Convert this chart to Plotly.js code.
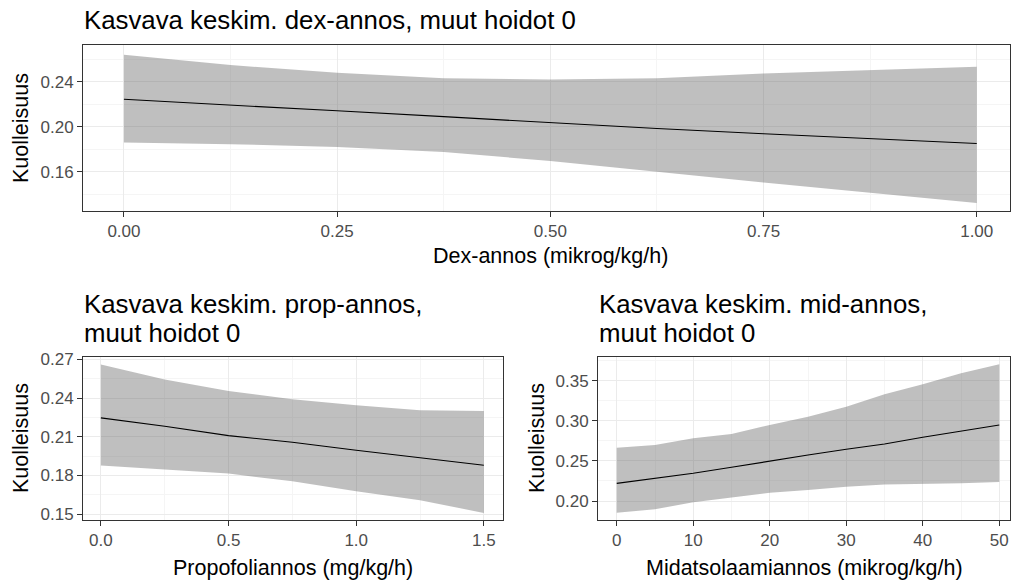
<!DOCTYPE html>
<html>
<head>
<meta charset="utf-8">
<script src="https://cdn.plot.ly/plotly-3.0.1.min.js"></script>
<style>html,body{margin:0;padding:0;background:#fff;}</style>
</head>
<body>
<div id="chart" style="width:1011px;height:583px;"></div>
<script>
// ---- data ----
const dexX     = [0, 0.125, 0.25, 0.375, 0.5, 0.625, 0.75, 0.875, 1.0];
const dexFit   = [0.2244, 0.2190, 0.2142, 0.2090, 0.2035, 0.1985, 0.1939, 0.1895, 0.1852];
const dexLower = [0.1860, 0.1846, 0.1820, 0.1777, 0.1697, 0.1600, 0.1505, 0.1416, 0.1324];
const dexUpper = [0.2640, 0.2548, 0.2480, 0.2430, 0.2420, 0.2430, 0.2474, 0.2504, 0.2533];

const propX     = [0, 0.25, 0.5, 0.75, 1.0, 1.25, 1.5];
const propFit   = [0.2246, 0.2181, 0.2109, 0.2057, 0.1995, 0.1939, 0.1879];
const propLower = [0.1877, 0.1846, 0.1815, 0.1755, 0.1678, 0.1608, 0.1510];
const propUpper = [0.2659, 0.2543, 0.2455, 0.2390, 0.2344, 0.2305, 0.2300];

const midX     = [0, 5, 10, 15, 20, 25, 30, 35, 40, 45, 50];
const midFit   = [0.2220, 0.2278, 0.2345, 0.2420, 0.2499, 0.2574, 0.2645, 0.2710, 0.2794, 0.2873, 0.2948];
const midLower = [0.1854, 0.1896, 0.1984, 0.2046, 0.2104, 0.2137, 0.2178, 0.2205, 0.2212, 0.2220, 0.2237];
const midUpper = [0.2665, 0.2698, 0.2782, 0.2835, 0.2948, 0.3051, 0.3176, 0.3330, 0.3455, 0.3592, 0.3704];

const titles = ["Kasvava keskim. dex-annos, muut hoidot 0",
                "Kasvava keskim. prop-annos,", "muut hoidot 0",
                "Kasvava keskim. mid-annos,", "muut hoidot 0"];
const yTitle = "Kuolleisuus";
const xTitles = ["Dex-annos (mikrog/kg/h)", "Propofoliannos (mg/kg/h)", "Midatsolaamiannos (mikrog/kg/h)"];

// ---- helpers ----
const W = 1011, H = 583;
const px = v => v / W;
const py = v => 1 - v / H;
const FONT = "Liberation Sans, Arial, sans-serif";
const RIBBON = "rgba(95,95,95,0.4)";

function band(x, lo, hi, xa, ya) {
  return [
    {x: x, y: lo, xaxis: xa, yaxis: ya, type: "scatter", mode: "lines",
     line: {width: 0, color: "rgba(0,0,0,0)"}, hoverinfo: "skip", showlegend: false},
    {x: x, y: hi, xaxis: xa, yaxis: ya, type: "scatter", mode: "lines",
     fill: "tonexty", fillcolor: RIBBON,
     line: {width: 0, color: "rgba(0,0,0,0)"}, hoverinfo: "skip", showlegend: false}
  ];
}
function fit(x, y, xa, ya) {
  return {x: x, y: y, xaxis: xa, yaxis: ya, type: "scatter", mode: "lines",
          line: {color: "#000000", width: 1.1}, showlegend: false};
}

const traces = [].concat(
  band(dexX, dexLower, dexUpper, "x", "y"), [fit(dexX, dexFit, "x", "y")],
  band(propX, propLower, propUpper, "x2", "y2"), [fit(propX, propFit, "x2", "y2")],
  band(midX, midLower, midUpper, "x3", "y3"), [fit(midX, midFit, "x3", "y3")]
);

function axis(o) {
  return Object.assign({
    showline: true, mirror: true, linecolor: "#333333", linewidth: 1,
    ticks: "outside", ticklen: 5, tickwidth: 1, tickcolor: "#333333",
    showgrid: true, gridcolor: "#EBEBEB", gridwidth: 1, zeroline: false,
    tickfont: {family: FONT, size: 17, color: "#4D4D4D"},
    fixedrange: true
  }, o);
}

const layout = {
  width: W, height: H,
  margin: {l: 0, r: 0, t: 0, b: 0},
  paper_bgcolor: "#ffffff", plot_bgcolor: "#ffffff",
  showlegend: false,
  xaxis: axis({domain: [px(83), px(1010)], anchor: "y", range: [-0.048, 1.039],
               tickvals: [0, 0.25, 0.5, 0.75, 1.0], tickformat: ".2f",
               minor: {tickvals: [0.125, 0.375, 0.625, 0.875], showgrid: true, gridcolor: "#F5F5F5", gridwidth: 1}}),
  yaxis: axis({domain: [py(211), py(45)], anchor: "x", range: [0.1253, 0.2726],
               tickvals: [0.16, 0.20, 0.24], tickformat: ".2f",
               minor: {tickvals: [0.14, 0.18, 0.22, 0.26], showgrid: true, gridcolor: "#F5F5F5", gridwidth: 1}}),
  xaxis2: axis({domain: [px(83), px(503)], anchor: "y2", range: [-0.07, 1.575],
                tickvals: [0, 0.5, 1.0, 1.5], tickformat: ".1f",
                minor: {tickvals: [0.25, 0.75, 1.25], showgrid: true, gridcolor: "#F5F5F5", gridwidth: 1}}),
  yaxis2: axis({domain: [py(519.5), py(357)], anchor: "x2", range: [0.1459, 0.2718],
                tickvals: [0.15, 0.18, 0.21, 0.24, 0.27], tickformat: ".2f",
                minor: {tickvals: [0.165, 0.195, 0.225, 0.255], showgrid: true, gridcolor: "#F5F5F5", gridwidth: 1}}),
  xaxis3: axis({domain: [px(598), px(1010)], anchor: "y3", range: [-2.45, 51.4],
                tickvals: [0, 10, 20, 30, 40, 50], tickformat: "d",
                minor: {tickvals: [5, 15, 25, 35, 45], showgrid: true, gridcolor: "#F5F5F5", gridwidth: 1}}),
  yaxis3: axis({domain: [py(520), py(357.3)], anchor: "x3", range: [0.1763, 0.3792],
                tickvals: [0.20, 0.25, 0.30, 0.35], tickformat: ".2f",
                minor: {tickvals: [0.225, 0.275, 0.325, 0.375], showgrid: true, gridcolor: "#F5F5F5", gridwidth: 1}}),
  annotations: []
};

function ann(text, x, y, size, opts) {
  return Object.assign({text: text, xref: "paper", yref: "paper", x: px(x), y: py(y),
    showarrow: false, xanchor: "left", yanchor: "middle",
    font: {family: FONT, size: size, color: "#000000"}}, opts || {});
}
layout.annotations.push(
  ann(titles[0], 82, 20, 25.8),
  ann(titles[1], 82, 304, 25.8),
  ann(titles[2], 82, 333, 25.8),
  ann(titles[3], 597, 304, 25.8),
  ann(titles[4], 597, 333, 25.8),
  ann(yTitle, 21, 128, 21.5, {xanchor: "center", textangle: -90}),
  ann(yTitle, 21, 438, 21.5, {xanchor: "center", textangle: -90}),
  ann(yTitle, 537, 438, 21.5, {xanchor: "center", textangle: -90}),
  ann(xTitles[0], 550, 256, 21.5, {xanchor: "center"}),
  ann(xTitles[1], 293, 568, 21.5, {xanchor: "center"}),
  ann(xTitles[2], 804, 568, 21.5, {xanchor: "center"})
);

Plotly.newPlot("chart", traces, layout, {displayModeBar: false, staticPlot: true});
</script>
</body>
</html>
